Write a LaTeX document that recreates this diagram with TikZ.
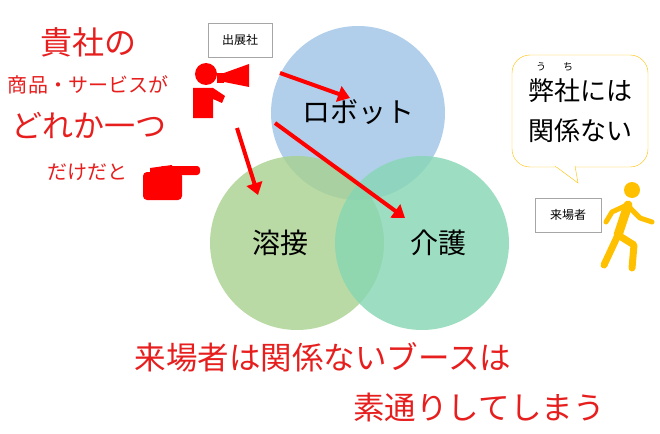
\documentclass[tikz,border=0pt]{standalone}
\usepackage{fontspec}
\setmainfont{Noto Sans CJK JP}
\usetikzlibrary{positioning,calc,arrows.meta,shapes}
\definecolor{redtxt}{RGB}{230,30,30}
\definecolor{blueset}{RGB}{157,195,230}
\definecolor{greenset}{RGB}{169,209,142}
\definecolor{tealset}{RGB}{133,214,180}
\definecolor{walker}{RGB}{255,192,0}
\tikzset{
  venn/.style={circle,minimum size=174pt,inner sep=0pt,fill opacity=0.8,text opacity=1},
  setlabel/.style={font=\fontsize{28}{28}\selectfont},
  tag/.style={draw=gray!70,rectangle,minimum height=34pt,minimum width=64pt,font=\fontsize{12}{12}\selectfont},
  redtext/.style={text=redtxt},
  pointer/.style={draw=red,line width=4pt,-{Triangle[length=12pt,width=16pt]}},
  >=stealth
}
\begin{document}
\begin{tikzpicture}[x=1pt,y=-1pt]
    \useasboundingbox (0,0) rectangle (660,433);
    % sets
    \node at (358,113) [venn,fill=blueset] (robot) {};
    \node at (297,243) [venn,fill=greenset] (weld) {};
    \node at (422,243) [venn,fill=tealset] (care) {};
    \node at (358,112) [setlabel] (robotlbl) {ロボット};
    \node at (280,243) [setlabel] (weldlbl) {溶接};
    \node at (438,243) [setlabel] (carelbl) {介護};

    % left message
    \node at (88,42) [redtext,font=\fontsize{32}{32}\selectfont] (yours) {貴社の};
    \node at (88,85) [redtext,font=\fontsize{20}{20}\selectfont] (goods) {商品・サービスが};
    \node at (89,126) [redtext,font=\fontsize{31}{31}\selectfont] (onlyone) {どれか一つ};
    \node at (87,172) [redtext,font=\fontsize{20}{20}\selectfont] (only) {だけだと};
    \node at (323,357) [redtext,font=\fontsize{31.5}{31.5}\selectfont] (visitors) {来場者は関係ないブースは};
    \node at (479,407) [redtext,font=\fontsize{31.5}{31.5}\selectfont] (passby) {素通りしてしまう};

    % exhibitor with megaphone
    \node at (240,40) [tag] (exhibitor) {出展社};
    \fill[red] (206,74) circle (11);
    \fill[red] (193,88) -- (213,88) -- (225,96) -- (222,103) -- (213,99) -- (213,118) -- (193,118) -- cycle;
    \fill[red] (217,73) rectangle (224,83);
    \fill[red] (224,73) -- (249,64) -- (249,87) -- (224,82) -- cycle;
    \coordinate (mega1) at (280,73);
    \coordinate (mega2) at (237,128);
    \coordinate (mega3) at (275,123);
    \coordinate (hit1) at (350,98);
    \coordinate (hit2) at (258,195);
    \coordinate (hit3) at (405,218);
    \draw[pointer] (mega1) -- (hit1);
    \draw[pointer] (mega2) -- (hit2);
    \draw[pointer] (mega3) -- (hit3);

    % pointing hand
    \fill[red,rounded corners=4pt] (143,172) rectangle (182,200);
    \fill[red,rounded corners=3pt] (160,166) rectangle (200,175);
    \fill[red] (150,168) -- (172,165) -- (172,175) -- (150,178) -- cycle;

    % visitor
    \node at (568,215) [tag,minimum width=66pt] (visitor) {来場者};
    \node at (580,111) [draw=walker,fill=white,rounded corners=18pt,minimum width=136pt,minimum height=112pt,
      align=center,font=\fontsize{26}{40}\selectfont] (bubble) {弊社には\\関係ない};
    \fill[white,draw=walker] (555,166) -- (578,183) -- (575,166);
    \draw[white,line width=1.2pt] (556,166) -- (574,166);
    \node at (541,67) [font=\fontsize{10}{10}\selectfont] (ruby1) {う};
    \node at (568,67) [font=\fontsize{10}{10}\selectfont] (ruby2) {ち};
    \fill[walker] (632,190) circle (8);
    \draw[walker,line width=9pt,line cap=round,line join=round] (628,205) -- (618,235);
    \draw[walker,line width=7pt,line cap=round,line join=round] (618,235) -- (604,265);
    \draw[walker,line width=7pt,line cap=round,line join=round] (618,235) -- (634,245) -- (632,268);
    \draw[walker,line width=5pt,line cap=round,line join=round] (627,205) -- (612,212) -- (606,222);
    \draw[walker,line width=5pt,line cap=round,line join=round] (629,207) -- (640,218) -- (652,222);
\end{tikzpicture}
\end{document}
